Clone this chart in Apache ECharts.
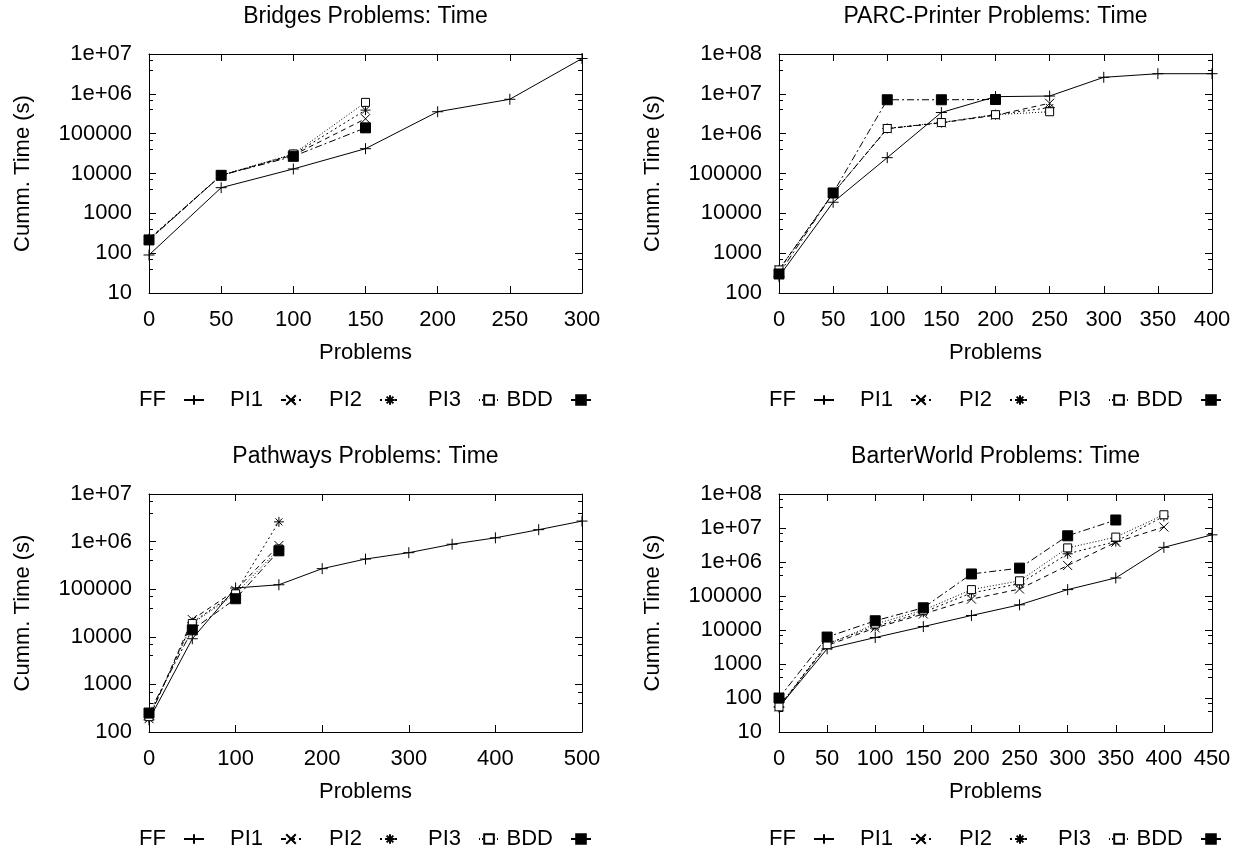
<!DOCTYPE html>
<html>
<head>
<meta charset="utf-8">
<script src="https://cdn.jsdelivr.net/npm/echarts@6/dist/echarts.min.js"></script>
<style>
html, body { margin: 0; padding: 0; background: #fff; }
#chart { width: 1240px; height: 853px; }
</style>
</head>
<body>
<div id="chart"></div>
<script>
// ---- data ----
const seriesNames = ["FF", "PI1", "PI2", "PI3", "BDD"];

// Bridges
const bridgesX = [0, 50, 100, 150, 200, 250, 300];
const bridgesFF = [90, 4400, 13000, 42000, 355000, 730000, 7700000];
const bridgesPI1 = [220, 9000, 29000, 237000];
const bridgesPI2 = [230, 9000, 30000, 390000];
const bridgesPI3 = [220, 9000, 31000, 610000];
const bridgesBDD = [215, 9000, 27000, 140000];

// PARC-Printer
const parcX = [0, 50, 100, 150, 200, 250, 300, 350, 400];
const parcFF = [260, 19000, 250000, 3400000, 8500000, 8800000, 26000000, 32000000, 32000000];
const parcPI1 = [380, 32000, 1330000, 1870000, 2900000, 5800000];
const parcPI2 = [380, 32000, 1350000, 1900000, 3000000, 4500000];
const parcPI3 = [380, 32000, 1350000, 1900000, 3000000, 3550000];
const parcBDD = [300, 32500, 7100000, 7100000, 7200000];

// Pathways
const pathX = [0, 50, 100, 150, 200, 250, 300, 350, 400, 450, 500];
const pathFF = [180, 9100, 106000, 124000, 270000, 430000, 585000, 880000, 1200000, 1780000, 2700000];
const pathPI1 = [190, 23000, 95000, 830000];
const pathPI2 = [200, 20000, 85000, 2600000];
const pathPI3 = [210, 19000, 80000, 700000];
const pathBDD = [250, 14000, 63000, 640000];

// BarterWorld
const barterX = [0, 50, 100, 150, 200, 250, 300, 350, 400, 450];
const barterFF = [54, 2800, 6000, 12600, 26700, 55000, 154000, 340000, 2700000, 6300000];
const barterPI1 = [55, 3500, 11500, 29500, 81000, 160000, 790000, 3800000, 10700000];
const barterPI2 = [55, 4000, 12700, 33000, 123000, 230000, 1740000, 4000000, 22000000];
const barterPI3 = [55, 3700, 15000, 38000, 154000, 280000, 2600000, 5400000, 24500000];
const barterBDD = [100, 6200, 18700, 45000, 445000, 660000, 5900000, 17200000];

// ---- layout ----
const FONT = "'Liberation Sans', Arial, Helvetica, sans-serif";
const FS = 22;
const CHART_W = 1240;

const panels = [
  { title: "Bridges Problems: Time", x: bridgesX,
    ys: [bridgesFF, bridgesPI1, bridgesPI2, bridgesPI3, bridgesBDD],
    xMax: 300, xStep: 50, yMin: 10, yMax: 1e7, left: 149, top: 54, height: 239 },
  { title: "PARC-Printer Problems: Time", x: parcX,
    ys: [parcFF, parcPI1, parcPI2, parcPI3, parcBDD],
    xMax: 400, xStep: 50, yMin: 100, yMax: 1e8, left: 779, top: 54, height: 239 },
  { title: "Pathways Problems: Time", x: pathX,
    ys: [pathFF, pathPI1, pathPI2, pathPI3, pathBDD],
    xMax: 500, xStep: 100, yMin: 100, yMax: 1e7, left: 149, top: 494, height: 238 },
  { title: "BarterWorld Problems: Time", x: barterX,
    ys: [barterFF, barterPI1, barterPI2, barterPI3, barterBDD],
    xMax: 450, xStep: 50, yMin: 10, yMax: 1e8, left: 779, top: 494, height: 238 },
];
const PLOT_W = 433;
// gnuplot key columns: right end of each sample, measured from plot left
const keyEnds = [56, 153, 252, 351, 443];

const markStyles = {
  FF:  { symbol: "path://M0,5L10,5M5,0L5,10", size: 11, dash: "solid", fill: "#000" },
  PI1: { symbol: "path://M0,0L10,10M0,10L10,0", size: 9, dash: [5, 4], fill: "#000" },
  PI2: { symbol: "path://M0,5L10,5M5,0L5,10M1.5,1.5L8.5,8.5M1.5,8.5L8.5,1.5", size: 10, dash: [2, 3], fill: "#000" },
  PI3: { symbol: "rect", size: 8, dash: [1, 2], fill: "#fff" },
  BDD: { symbol: "rect", size: 10, dash: [7, 3, 2, 3], fill: "#000" },
};

function yLabel(v) {
  const e = Math.round(Math.log10(v));
  return e >= 6 ? "1e+0" + e : String(Math.round(v));
}

const axisLine = { onZero: false, lineStyle: { color: "#000", width: 1 } };
const tick = { inside: true, length: 7, lineStyle: { color: "#000", width: 1 } };
const minor = { show: true, splitNumber: 3, length: 4, lineStyle: { color: "#000", width: 1 } };

const grid = [], xAxis = [], yAxis = [], series = [], title = [], legend = [];

panels.forEach((p, i) => {
  grid.push({ left: p.left, top: p.top, width: PLOT_W, height: p.height });

  title.push({
    text: p.title, left: p.left + PLOT_W / 2, textAlign: "center",
    top: p.top - 49, padding: 0,
    textStyle: { fontFamily: FONT, fontSize: 23, fontWeight: "normal", color: "#000" },
  });

  // one legend per key entry so the columns sit where gnuplot put them
  seriesNames.forEach((name, k) => {
    legend.push({
      data: [name], right: CHART_W - (p.left + keyEnds[k]), top: p.top + p.height + 96,
      orient: "horizontal", align: "right", padding: 0,
      itemWidth: 20, itemHeight: 12, selectedMode: false,
      textStyle: { fontFamily: FONT, fontSize: FS, color: "#000", padding: [0, 13, 0, 0] },
    });
  });

  xAxis.push({
    gridIndex: i, type: "value", min: 0, max: p.xMax, interval: p.xStep,
    axisLine, axisTick: tick, splitLine: { show: false },
    axisLabel: { color: "#000", fontFamily: FONT, fontSize: FS, margin: 16 },
    name: "Problems", nameLocation: "middle", nameGap: 49,
    nameTextStyle: { color: "#000", fontFamily: FONT, fontSize: FS },
  });
  xAxis.push({
    gridIndex: i, type: "value", position: "top", min: 0, max: p.xMax, interval: p.xStep,
    axisLine, axisTick: tick, splitLine: { show: false }, axisLabel: { show: false },
  });

  yAxis.push({
    gridIndex: i, type: "log", logBase: 10, min: p.yMin, max: p.yMax,
    axisLine, axisTick: tick, minorTick: minor, splitLine: { show: false },
    axisLabel: { color: "#000", fontFamily: FONT, fontSize: FS, margin: 17, formatter: yLabel },
    name: "Cumm. Time (s)", nameLocation: "middle", nameGap: 115,
    nameTextStyle: { color: "#000", fontFamily: FONT, fontSize: FS },
  });
  yAxis.push({
    gridIndex: i, type: "log", logBase: 10, position: "right", min: p.yMin, max: p.yMax,
    axisLine, axisTick: tick, minorTick: minor, splitLine: { show: false },
    axisLabel: { show: false },
  });

  seriesNames.forEach((name, k) => {
    const st = markStyles[name];
    const ys = p.ys[k];
    series.push({
      name, type: "line", xAxisIndex: 2 * i, yAxisIndex: 2 * i,
      data: ys.map((y, j) => [p.x[j], y]),
      symbol: st.symbol, symbolSize: st.size,
      lineStyle: { color: "#000", width: 1, type: st.dash },
      itemStyle: { color: st.fill, borderColor: "#000", borderWidth: 1 },
      emphasis: { disabled: true }, silent: true, z: 2 + k,
    });
  });
});

const chart = echarts.init(document.getElementById("chart"));
chart.setOption({
  animation: false,
  backgroundColor: "#fff",
  textStyle: { fontFamily: FONT, color: "#000" },
  title, legend, grid, xAxis, yAxis, series,
});
</script>
</body>
</html>
